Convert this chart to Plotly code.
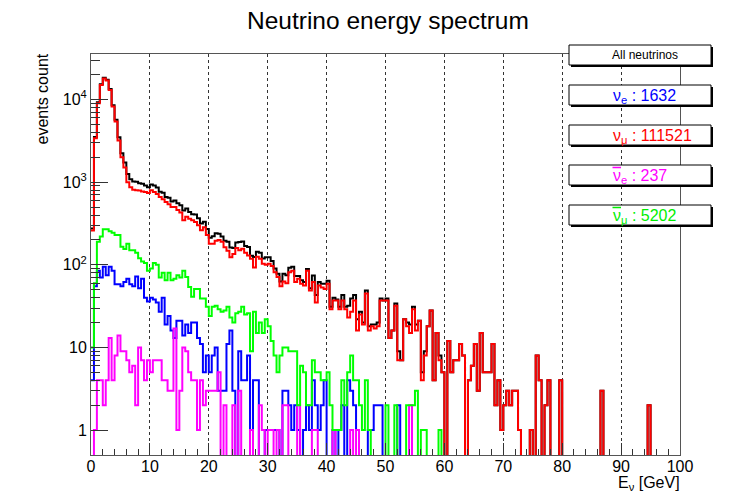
import numpy as np
import plotly.graph_objects as go

# ---------------- data (0.5 GeV bins from 0 to 100 GeV) ----------------
bin_width = 0.5
n_bins = 200

nu_mu = [
    260, 3400, 9000, 15000, 18000, 17000, 13000, 8200, 5400, 3200,
    2000, 1500, 1000, 870, 810, 800, 790, 770, 760, 740,
    800, 760, 720, 660, 620, 575, 540, 500, 500, 460,
    430, 345, 380, 360, 345, 330, 300, 262, 285, 230,
    180, 180, 195, 200, 190, 163, 148, 123, 135, 160,
    150, 156, 140, 130, 118, 93, 125, 118, 103, 100,
    103, 97, 81, 71, 55, 63, 60, 81, 85, 62,
    68, 59, 56, 85, 49, 62, 35, 56, 53, 51,
    59, 29, 37, 37, 29, 37, 29, 23, 27, 37,
    16, 25, 19, 45, 16, 18, 17, 18, 37, 37,
    37, 13, 16, 32, 7, 7, 22, 18, 15, 29,
    16, 21, 4, 8, 18, 28, 4, 15, 7, 5,
    0, 12, 5, 7, 7, 11, 8, 0, 4, 6,
    11, 3, 15, 5, 5, 5, 11, 2, 4, 1,
    2, 3, 2, 3, 3, 1, 0, 0, 0, 1,
    0, 8, 4, 0, 2, 4, 0, 0, 0, 4,
    0, 0, 0, 0, 0, 0, 0, 0, 0, 0,
    0, 0, 0, 3, 0, 0, 0, 0, 0, 0,
    0, 0, 0, 0, 0, 0, 0, 0, 0, 2,
    0, 0, 0, 0, 0, 0, 0, 0, 0, 0,
]

anti_nu_mu = [
    10, 60, 190, 220, 270, 270, 255, 245, 230, 230,
    165, 155, 180, 150, 150, 140, 120, 110, 105, 85,
    90, 105, 100, 70, 80, 65, 80, 65, 68, 75,
    70, 85, 71, 54, 41, 51, 51, 39, 39, 31,
    24, 31, 32, 29, 27, 28, 31, 23, 20, 26,
    27, 31, 25, 26, 9, 27, 15, 20, 15, 22,
    18, 12, 8, 5, 8, 10, 10, 9, 9, 9,
    2, 6, 5, 2, 2, 7, 5, 5, 4, 4,
    5, 2, 1, 1, 1, 4, 2, 5, 8, 4,
    4, 2, 1, 4, 1, 0, 0, 0, 0, 0,
    2, 0, 0, 2, 0, 0, 0, 2, 2, 2,
    3, 0, 1, 1, 0, 0, 0, 0, 1, 0,
    0, 0, 0, 0, 0, 0, 0, 0, 0, 0,
    0, 0, 0, 0, 0, 0, 0, 0, 0, 0,
    0, 0, 0, 0, 0, 0, 0, 0, 0, 0,
    0, 0, 0, 0, 0, 0, 0, 0, 0, 0,
    0, 0, 0, 0, 0, 0, 0, 0, 0, 0,
    0, 0, 0, 0, 0, 0, 0, 0, 0, 0,
    0, 0, 0, 0, 0, 0, 0, 0, 0, 0,
    0, 0, 0, 0, 0, 0, 0, 0, 0, 0,
]

nu_e = [
    4, 55, 85, 70, 95, 75, 95, 85, 58, 58,
    55, 62, 68, 58, 55, 72, 52, 68, 40, 36,
    40, 38, 35, 27, 40, 19, 24, 16, 13, 21,
    21, 14, 19, 15, 20, 20, 13, 11, 5, 8,
    5, 8, 10, 3, 3, 3, 11, 16, 3, 0,
    9, 4, 4, 8, 1, 4, 4, 0, 0, 1,
    1, 1, 1, 1, 0, 3, 3, 2, 1, 2,
    1, 0, 1, 2, 1, 4, 2, 1, 2, 4,
    0, 0, 1, 0, 1, 2, 0, 4, 3, 2,
    1, 0, 0, 0, 1, 1, 2, 2, 2, 0,
    0, 0, 0, 0, 2, 0, 0, 0, 0, 0,
    0, 0, 0, 0, 0, 0, 0, 0, 0, 0,
    0, 0, 0, 0, 0, 0, 0, 0, 0, 0,
    0, 0, 0, 0, 0, 0, 0, 0, 0, 0,
    0, 0, 0, 0, 0, 0, 0, 0, 0, 0,
    0, 0, 0, 0, 0, 0, 0, 0, 0, 0,
    0, 0, 0, 0, 0, 0, 0, 0, 0, 0,
    0, 0, 0, 0, 0, 0, 0, 0, 0, 0,
    0, 0, 0, 0, 0, 0, 0, 0, 0, 0,
    0, 0, 0, 0, 0, 0, 0, 0, 0, 0,
]

anti_nu_e = [
    0, 1, 4, 4, 2, 4, 13, 4, 8, 14,
    9, 9, 7, 5, 6, 2, 10, 7, 4, 7,
    5, 7, 7, 7, 4, 4, 3, 3, 17, 1,
    3, 10, 9, 5, 4, 4, 1, 4, 2, 3,
    3, 3, 3, 5, 0, 2, 0, 0, 2, 0,
    3, 0, 0, 0, 1, 0, 0, 2, 1, 0,
    1, 1, 0, 1, 0, 2, 2, 0, 0, 0,
    2, 0, 0, 0, 0, 1, 1, 0, 0, 0,
    0, 0, 1, 0, 0, 0, 0, 0, 1, 0,
    1, 0, 0, 0, 0, 0, 0, 0, 0, 0,
    0, 0, 0, 0, 0, 0, 0, 0, 2, 0,
    0, 0, 0, 0, 0, 0, 0, 0, 0, 0,
    0, 0, 0, 0, 0, 0, 0, 0, 0, 0,
    0, 0, 0, 0, 0, 0, 0, 0, 0, 0,
    0, 0, 0, 0, 0, 0, 0, 0, 0, 0,
    0, 0, 0, 0, 0, 0, 0, 0, 0, 0,
    0, 0, 0, 0, 0, 0, 0, 0, 0, 0,
    0, 0, 0, 0, 0, 0, 0, 0, 0, 0,
    0, 0, 0, 0, 0, 0, 0, 0, 0, 0,
    0, 0, 0, 0, 0, 0, 0, 0, 0, 0,
]

# "All neutrinos" = sum of the four flavours
all_nu = [a + b + c + d for a, b, c, d in zip(nu_mu, anti_nu_mu, nu_e, anti_nu_e)]

legend_labels = ["All neutrinos",
                 "\u03bd<sub>e</sub> : 1632",
                 "\u03bd<sub>\u03bc</sub> : 111521",
                 "\u03bd<sub>e</sub> : 237",
                 "\u03bd<sub>\u03bc</sub> : 5202"]
legend_bar = [False, False, False, True, True]   # antineutrino overline
legend_colors = ["#000000", "#0000ff", "#ff0000", "#ff00ff", "#00ee00"]

x_ticks = [0, 10, 20, 30, 40, 50, 60, 70, 80, 90, 100]
y_ticks = [1, 10, 100, 1000, 10000]
y_ticktext = ["1", "10", "10<sup>2</sup>", "10<sup>3</sup>", "10<sup>4</sup>"]

# ---------------- figure ----------------
W, H = 742, 492
L_, R_, T_, B_ = 91, 62, 54, 37
PW, PH = W - L_ - R_, H - T_ - B_

def px(p):
    return (p - L_) / PW

def py(p):
    return (T_ + PH - p) / PH

edges = np.arange(n_bins + 1) * bin_width

def step_y(vals):
    v = [x if x > 0 else 0.05 for x in vals]
    return v + [v[-1]]

fig = go.Figure()
series = [(all_nu, "#000000"), (nu_mu, "#ff0000"), (nu_e, "#0000ff"),
          (anti_nu_e, "#ff00ff"), (anti_nu_mu, "#00ff00")]
for vals, col in series:
    fig.add_trace(go.Scatter(x=edges, y=step_y(vals), mode="lines",
                             line=dict(shape="hv", color=col, width=2),
                             showlegend=False, hoverinfo="skip"))

font_family = "Liberation Sans, Arial, Helvetica, sans-serif"
axis_col = "#555555"

fig.update_layout(
    width=W, height=H,
    margin=dict(l=L_, r=R_, t=T_, b=B_, pad=0),
    paper_bgcolor="white", plot_bgcolor="white",
    font=dict(family=font_family, color="black"),
    showlegend=False,
    xaxis=dict(range=[0, 100], tickvals=x_ticks, ticks="inside", ticklen=12,
               tickcolor="#333", tickwidth=1, ticklabelstandoff=-3,
               minor=dict(ticks="inside", ticklen=6, dtick=2, tickcolor="#333", showgrid=False),
               showgrid=True, griddash="dot", gridcolor="#333", gridwidth=1,
               showline=True, linecolor=axis_col, linewidth=1, mirror=True,
               zeroline=False, tickfont=dict(size=16)),
    yaxis=dict(type="log", range=[np.log10(0.5), np.log10(35500)],
               tickvals=y_ticks, ticktext=y_ticktext, ticks="inside", ticklen=17,
               tickcolor="#333", tickwidth=1,
               minor=dict(ticks="inside", ticklen=9, tickcolor="#333",
                          tickvals=[m * d for d in [1, 10, 100, 1000] for m in range(2, 10)] + [20000, 30000],
                          showgrid=False),
               showgrid=False, showline=True, linecolor=axis_col, linewidth=1, mirror=True,
               zeroline=False, tickfont=dict(size=16)),
)

annotations = [
    dict(text="Neutrino energy spectrum", x=px(388), y=py(21), xref="paper", yref="paper",
         showarrow=False, font=dict(size=24.5), xanchor="center", yanchor="middle"),
    dict(text="events count", x=px(42), y=py(52), xref="paper", yref="paper",
         showarrow=False, font=dict(size=16), textangle=-90, xanchor="center", yanchor="top"),
    dict(text="E<sub>\u03bd</sub> [GeV]", x=px(682), y=py(483), xref="paper", yref="paper",
         showarrow=False, font=dict(size=16), xanchor="right", yanchor="middle"),
]

shapes = []
box_x0, box_x1 = 569, 711
box_tops = [45, 85, 125, 165, 205]
box_h = 20
text_left = 611
for i, top in enumerate(box_tops):
    # shadow
    shapes.append(dict(type="rect", xref="paper", yref="paper", layer="above",
                       x0=px(box_x0 + 2), x1=px(box_x1 + 2), y0=py(top + box_h + 2), y1=py(top + 2),
                       fillcolor="black", line=dict(width=0)))
    shapes.append(dict(type="rect", xref="paper", yref="paper", layer="above",
                       x0=px(box_x0), x1=px(box_x1), y0=py(top + box_h), y1=py(top),
                       fillcolor="white", line=dict(color="black", width=1)))
    if i == 0:
        annotations.append(dict(text=legend_labels[i], x=px(645), y=py(top + box_h / 2),
                                xref="paper", yref="paper", showarrow=False,
                                font=dict(size=12, color=legend_colors[i]),
                                xanchor="center", yanchor="middle"))
    else:
        annotations.append(dict(text=legend_labels[i], x=px(text_left), y=py(top + 11),
                                xref="paper", yref="paper", showarrow=False,
                                font=dict(size=16, color=legend_colors[i]),
                                xanchor="left", yanchor="middle"))
    if legend_bar[i]:
        shapes.append(dict(type="line", xref="paper", yref="paper", layer="above",
                           x0=px(text_left + 1.5), x1=px(text_left + 10),
                           y0=py(top + 2.5), y1=py(top + 2.5),
                           line=dict(color=legend_colors[i], width=1.5)))

fig.update_layout(shapes=shapes, annotations=annotations)

fig.write_html("out.html", config={"displayModeBar": False},
               post_script="document.body.style.margin='0';")
